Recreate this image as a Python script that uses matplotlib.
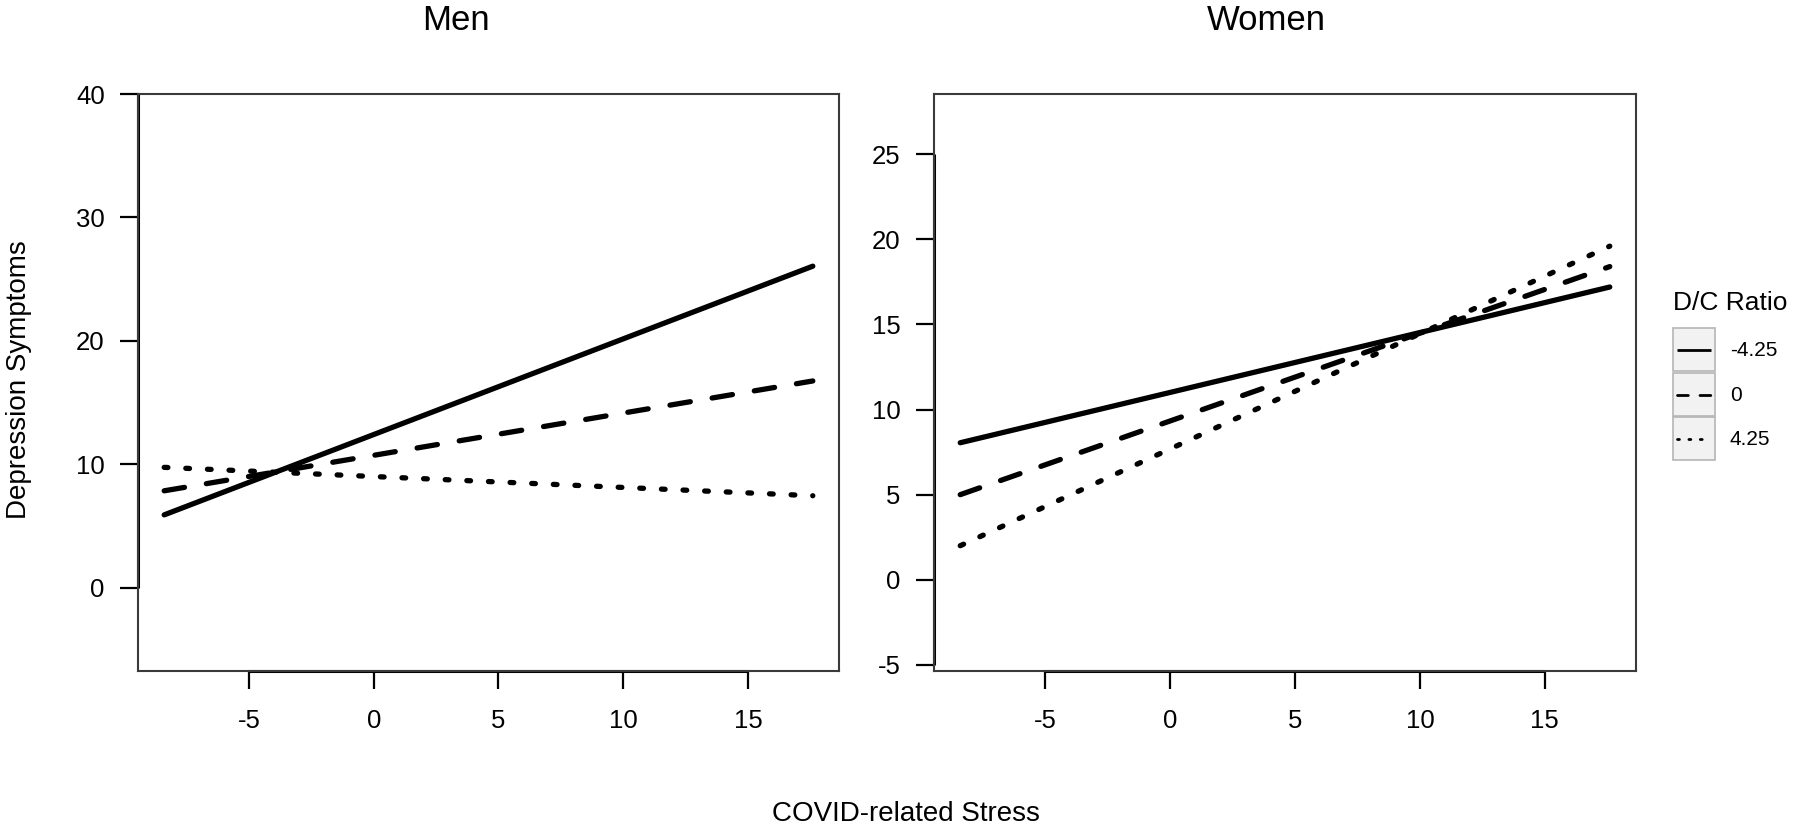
import matplotlib
matplotlib.use('Agg')
import matplotlib.pyplot as plt
from matplotlib.patches import Rectangle

plt.rcParams['font.family'] = ['Liberation Sans', 'DejaVu Sans']

# ---- data ----
stress_range = [-8.4, 17.6]
ratio_labels = ['-4.25', '0', '4.25']
men_start = [5.9, 7.85, 9.75]
men_end = [26.05, 16.75, 7.45]
women_start = [8.05, 5.0, 2.0]
women_end = [17.2, 18.4, 19.6]
x_ticks = [-5, 0, 5, 10, 15]
men_yticks = [0, 10, 20, 30, 40]
women_yticks = [-5, 0, 5, 10, 15, 20, 25]
panel_titles = ['Men', 'Women']

# ---- styles ----
W, H = 1800, 833
line_styles = ['-', (0, (3.9, 4.2)), (0, (0.7, 3.4))]
LW = 3.8

fig = plt.figure(figsize=(W / 100, H / 100), dpi=100)
fig.patch.set_facecolor('white')


def px_rect(x0, x1, y_top, y_bot):
    return [x0 / W, 1 - y_bot / H, (x1 - x0) / W, (y_bot - y_top) / H]


ax_m = fig.add_axes(px_rect(138, 839, 94, 671))
ax_w = fig.add_axes(px_rect(934, 1636, 94, 671))

panels = [
    (ax_m, men_start, men_end, men_yticks, (-6.75, 40.0)),
    (ax_w, women_start, women_end, women_yticks, (-5.36, 28.54)),
]

for ax, starts, ends, yticks, ylim in panels:
    for i, lab in enumerate(ratio_labels):
        ax.plot(stress_range, [starts[i], ends[i]], color='black', lw=LW,
                linestyle=line_styles[i], dash_capstyle='round',
                solid_capstyle='round', label=lab)
    ax.set_xlim(-9.45, 18.65)
    ax.set_ylim(*ylim)
    ax.set_xticks(x_ticks)
    ax.set_xticklabels([str(v) for v in x_ticks])
    ax.set_yticks(yticks)
    ax.set_yticklabels([str(v) for v in yticks])
    ax.tick_params(axis='both', direction='out', length=13, width=1.6,
                   color='black', labelsize=18.5)
    ax.tick_params(axis='x', pad=14)
    ax.tick_params(axis='y', pad=11)
    for sp in ax.spines.values():
        sp.set_color('#3a3a3a')
        sp.set_linewidth(1.5)
    # R-style axis lines spanning first to last tick
    ax.plot([x_ticks[0], x_ticks[-1]], [0, 0], transform=ax.get_xaxis_transform(),
            clip_on=False, color='black', lw=2.2, solid_capstyle='butt')
    ax.plot([0, 0], [yticks[0], yticks[-1]], transform=ax.get_yaxis_transform(),
            clip_on=False, color='black', lw=2.2, solid_capstyle='butt')

# titles and axis labels
fig.text(456 / W, 1 - 20 / H, panel_titles[0], ha='center', va='center', fontsize=25)
fig.text(1266 / W, 1 - 20 / H, panel_titles[1], ha='center', va='center', fontsize=25)
fig.text(19 / W, 1 - 380 / H, 'Depression Symptoms', rotation=90, ha='center',
         va='center', fontsize=20)
fig.text(906 / W, 1 - 814 / H, 'COVID-related Stress', ha='center', va='center',
         fontsize=20)

# legend (ggplot-like keys)
ov = fig.add_axes([0, 0, 1, 1], facecolor='none')
ov.set_xlim(0, W)
ov.set_ylim(H, 0)
ov.axis('off')
ov.text(1673, 303, 'D/C Ratio', ha='left', va='center', fontsize=19)
row_tops = [328, 373, 417]
for i, lab in enumerate(ratio_labels):
    top = row_tops[i]
    ov.add_patch(Rectangle((1673, top), 42, 43, facecolor='#f2f2f2',
                           edgecolor='#b5b5b5', lw=1.2))
    ov.plot([1677, 1711], [top + 21.5, top + 21.5], color='black', lw=2.0,
            linestyle=line_styles[i], dash_capstyle='round', solid_capstyle='butt')
    ov.text(1730, top + 22, lab, ha='left', va='center', fontsize=15)

fig.savefig('out.png', dpi=100, facecolor='white')
